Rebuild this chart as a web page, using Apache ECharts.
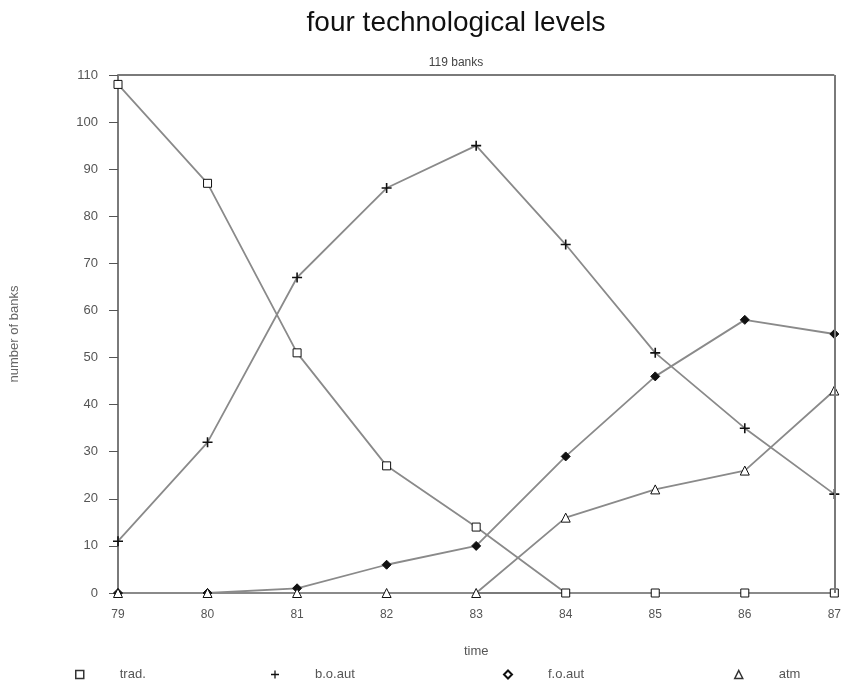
<!DOCTYPE html>
<html>
<head>
<meta charset="utf-8">
<script src="https://cdn.jsdelivr.net/npm/echarts@6/dist/echarts.min.js"></script>
<style>
  html, body { margin: 0; padding: 0; background: #fff; }
  #chart { width: 844px; height: 682px; }
</style>
</head>
<body>
<div id="chart"></div>
<script>
// years on the x axis
const years = ["79", "80", "81", "82", "83", "84", "85", "86", "87"];

// number of banks at each level
const trad = [108, 87, 51, 27, 14, 0, 0, 0, 0];
const boAut = [11, 32, 67, 86, 95, 74, 51, 35, 21];
const foAut = [0, 0, 1, 6, 10, 29, 46, 58, 55];
const atm = [0, 0, 0, 0, 0, 16, 22, 26, 43];

const PLUS = "path://M4.2,0H5.8V4.2H10V5.8H5.8V10H4.2V5.8H0V4.2H4.2Z";
const LINE = "#8a8a8a";
const FONT = "Liberation Sans";

function makeSeries(name, data, symbol, fill, size, border) {
  return {
    name: name,
    type: "line",
    data: data,
    symbol: symbol,
    symbolSize: size,
    showAllSymbol: true,
    lineStyle: { color: LINE, width: 1.8 },
    itemStyle: { color: fill, borderColor: "#111", borderWidth: border },
    emphasis: { disabled: true },
    z: 3,
  };
}

// one legend per item so the uneven spacing can be kept
function makeLegend(name, icon, left, style) {
  return {
    data: [{ name: name, icon: icon, itemStyle: style }],
    left: left,
    top: 663,
    itemWidth: 8,
    itemHeight: 8,
    selectedMode: false,
    textStyle: {
      fontFamily: FONT,
      fontSize: 13,
      color: "#555",
      padding: [0, 0, 0, 31],
    },
  };
}

const chart = echarts.init(document.getElementById("chart"));

chart.setOption({
  animation: false,
  title: [
    {
      text: "four technological levels",
      left: 451,
      top: 4,
      textAlign: "center",
      textStyle: { fontFamily: FONT, fontSize: 28, fontWeight: "normal", color: "#111" },
    },
    {
      text: "119 banks",
      left: 451,
      top: 52,
      textAlign: "center",
      textStyle: { fontFamily: FONT, fontSize: 12, fontWeight: "normal", color: "#444" },
    },
  ],
  legend: [
    makeLegend("trad.", "rect", 70, { color: "#fff", borderColor: "#333", borderWidth: 1.5 }),
    makeLegend("b.o.aut", PLUS, 266, { color: "#111", borderWidth: 0 }),
    makeLegend("f.o.aut", "diamond", 498, { color: "#fff", borderColor: "#111", borderWidth: 2 }),
    makeLegend("atm", "triangle", 729, { color: "#fff", borderColor: "#333", borderWidth: 1.5 }),
  ],
  grid: { left: 117, right: 6, top: 75, bottom: 89 },
  xAxis: {
    type: "category",
    data: years,
    boundaryGap: false,
    name: "time",
    nameLocation: "middle",
    nameGap: 52,
    nameTextStyle: { fontFamily: FONT, fontSize: 13, color: "#555" },
    axisLine: { lineStyle: { color: "#7a7a7a", width: 2 } },
    axisTick: { length: 4, lineStyle: { color: "#555" } },
    axisLabel: { fontFamily: FONT, fontSize: 12, color: "#555", margin: 16 },
    splitLine: { show: false },
  },
  yAxis: {
    type: "value",
    min: 0,
    max: 110,
    interval: 10,
    name: "number of banks",
    nameLocation: "middle",
    nameGap: 97,
    nameTextStyle: { fontFamily: FONT, fontSize: 13, color: "#666" },
    axisLine: { show: true, lineStyle: { color: "#7a7a7a", width: 2 } },
    axisTick: { show: true, length: 9, lineStyle: { color: "#555" } },
    axisLabel: { fontFamily: FONT, fontSize: 13, color: "#555", margin: 20 },
    splitLine: { show: false },
  },
  series: [
    makeSeries("trad.", trad, "rect", "#fff", 8, 1),
    makeSeries("b.o.aut", boAut, PLUS, "#111", 10, 0),
    makeSeries("f.o.aut", foAut, "diamond", "#111", 9, 1),
    makeSeries("atm", atm, "triangle", "#fff", 9, 1),
    {
      // frame along the top and right of the plot
      type: "line",
      data: [],
      markLine: {
        silent: true,
        symbol: "none",
        label: { show: false },
        lineStyle: { color: "#7a7a7a", width: 2, type: "solid" },
        data: [
          { yAxis: 110 },
          { xAxis: "87" },
        ],
      },
    },
  ],
});
</script>
</body>
</html>
